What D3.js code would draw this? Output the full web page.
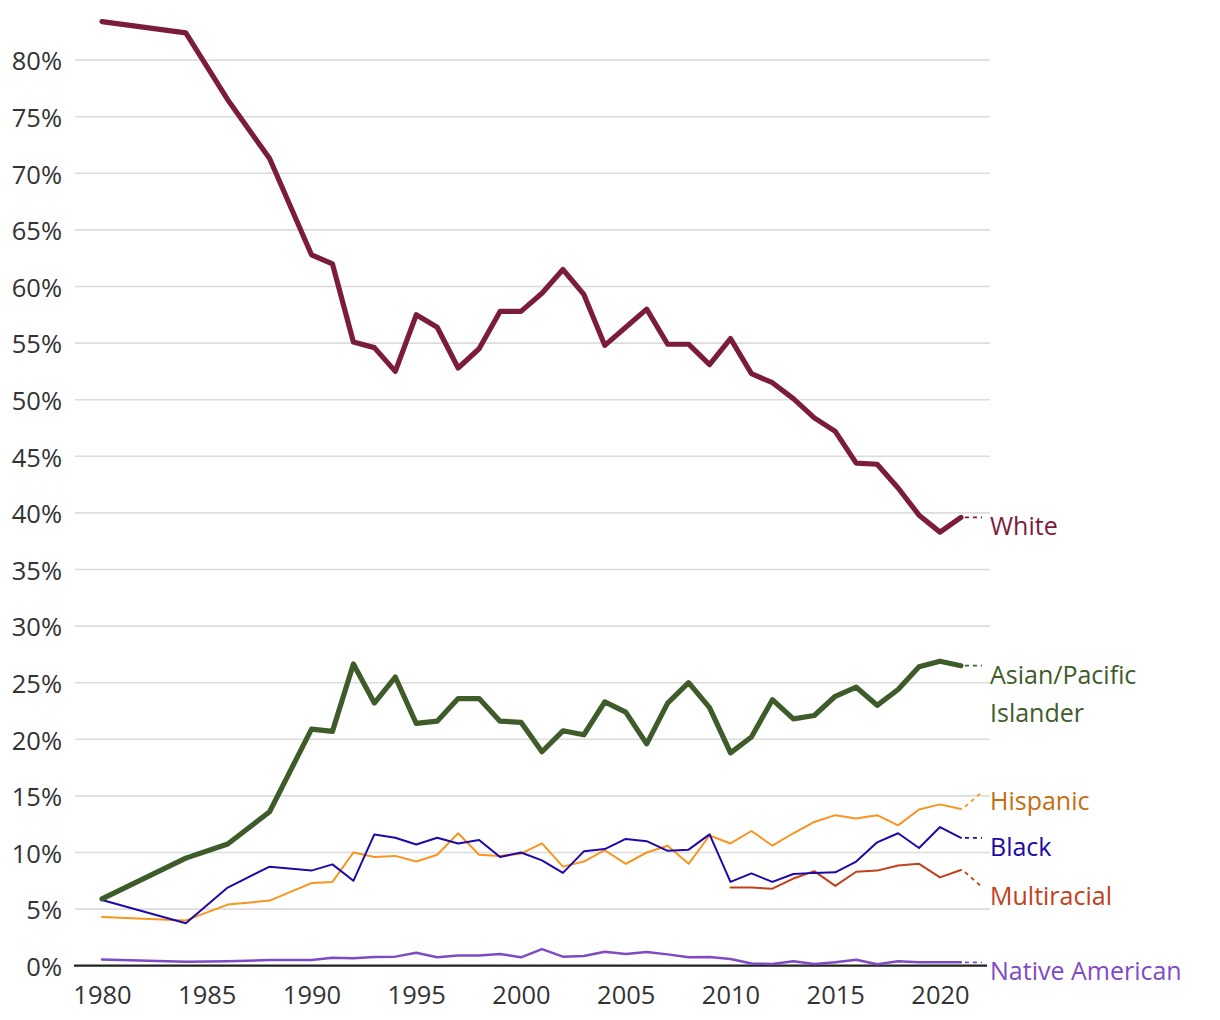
<!DOCTYPE html>
<html>
<head>
<meta charset="utf-8">
<script src="https://cdn.jsdelivr.net/npm/d3@7"></script>
<style>
  html, body { margin: 0; padding: 0; background: #fff; }
  svg { display: block; font-family: "Open Sans", Roboto, sans-serif; }
</style>
</head>
<body>
<svg id="chart" width="1220" height="1020"></svg>
<script>
// ---------------- DATA ----------------
const years = [1980, 1984, 1986, 1988, 1990, 1991, 1992, 1993, 1994, 1995, 1996, 1997, 1998, 1999, 2000,
  2001, 2002, 2003, 2004, 2005, 2006, 2007, 2008, 2009, 2010, 2011, 2012, 2013, 2014, 2015, 2016, 2017, 2018, 2019, 2020, 2021];

const white = [83.4, 82.4, 76.5, 71.3, 62.8, 62.0, 55.1, 54.6, 52.5, 57.5, 56.4, 52.8, 54.5, 57.8, 57.8,
  59.4, 61.5, 59.3, 54.8, 56.4, 58.0, 54.9, 54.9, 53.1, 55.4, 52.3, 51.5, 50.1, 48.4, 47.2, 44.4, 44.3, 42.2, 39.8, 38.3, 39.6];

const asian = [5.9, 9.5, 10.75, 13.6, 20.9, 20.7, 26.65, 23.2, 25.5, 21.4, 21.6, 23.6, 23.6, 21.6, 21.5,
  18.9, 20.75, 20.4, 23.3, 22.4, 19.6, 23.2, 25.0, 22.8, 18.8, 20.2, 23.5, 21.8, 22.1, 23.8, 24.6, 23.0, 24.4, 26.4, 26.9, 26.5];

const hispanic = [4.3, 4.0, 5.4, 5.75, 7.3, 7.4, 10.0, 9.6, 9.7, 9.2, 9.8, 11.7, 9.8, 9.7, 9.9,
  10.8, 8.75, 9.2, 10.2, 9.0, 10.0, 10.6, 9.0, 11.5, 10.8, 11.9, 10.6, 11.7, 12.7, 13.3, 13.0, 13.3, 12.4, 13.8, 14.25, 13.85];

const black = [5.8, 3.75, 6.9, 8.75, 8.4, 8.95, 7.5, 11.6, 11.3, 10.7, 11.3, 10.8, 11.1, 9.6, 10.0,
  9.3, 8.2, 10.1, 10.3, 11.2, 11.0, 10.15, 10.25, 11.6, 7.4, 8.15, 7.4, 8.1, 8.2, 8.25, 9.2, 10.9, 11.7, 10.4, 12.25, 11.3];

// Multiracial reported from 2010 onward only
const multiracial = [null, null, null, null, null, null, null, null, null, null, null, null, null, null, null,
  null, null, null, null, null, null, null, null, null, 6.9, 6.9, 6.8, 7.7, 8.35, 7.05, 8.3, 8.4, 8.85, 9.0, 7.8, 8.45];

const nativeAmerican = [0.55, 0.35, 0.4, 0.5, 0.5, 0.7, 0.65, 0.77, 0.8, 1.15, 0.74, 0.9, 0.9, 1.03, 0.74,
  1.47, 0.8, 0.85, 1.24, 1.03, 1.21, 1.0, 0.74, 0.77, 0.59, 0.2, 0.15, 0.4, 0.15, 0.3, 0.53, 0.12, 0.4, 0.3, 0.3, 0.3];

const seriesNames = ["White", "Asian/Pacific Islander", "Hispanic", "Black", "Multiracial", "Native American"];
const seriesValues = [white, asian, hispanic, black, multiracial, nativeAmerican];

const yTicks = [0, 5, 10, 15, 20, 25, 30, 35, 40, 45, 50, 55, 60, 65, 70, 75, 80];
const xTicks = [1980, 1985, 1990, 1995, 2000, 2005, 2010, 2015, 2020];

// ---------------- STYLE / LAYOUT ----------------
const styles = {
  "White":                  { line: "#7c1c3b", text: "#7c1c3b", width: 5.2, lines: ["White"],                 shift: 0 },
  "Asian/Pacific Islander": { line: "#3e5c2a", text: "#3e5c2a", width: 5.2, lines: ["Asian/Pacific", "Islander"], shift: 0 },
  "Hispanic":               { line: "#f7951f", text: "#c66e10", width: 2,   lines: ["Hispanic"],              shift: -17 },
  "Black":                  { line: "#2008a8", text: "#2008a8", width: 2,   lines: ["Black"],                 shift: 0 },
  "Multiracial":            { line: "#c2401a", text: "#c2401a", width: 2,   lines: ["Multiracial"],           shift: 17 },
  "Native American":        { line: "#7f4ac4", text: "#7f4ac4", width: 2.5, lines: ["Native American"],       shift: 0 }
};
const FONT = "'Open Sans', Roboto, sans-serif";

const svg = d3.select("#chart");
const x = d3.scaleLinear().domain([1980, 2020]).range([102, 940]);
const y = d3.scaleLinear().domain([0, 80]).range([965.7, 60.1]);
const gridLeft = 75, gridRight = 990, leaderEnd = 982, labelX = 990;

// gridlines
svg.append("g").selectAll("line")
  .data(yTicks.filter(t => t > 0))
  .join("line")
  .attr("x1", gridLeft).attr("x2", gridRight)
  .attr("y1", d => y(d)).attr("y2", d => y(d))
  .attr("stroke", "#dcdcdc").attr("stroke-width", 1.6);

// y axis labels
const yAxis = d3.axisLeft(y).tickValues(yTicks).tickFormat(d => d + "%").tickSize(0).tickPadding(0);
const gy = svg.append("g").attr("transform", "translate(62,0)").call(yAxis);
gy.select(".domain").remove();
gy.selectAll("text").attr("font-size", 25.5).attr("fill", "#333").attr("dy", "0.38em")
  .attr("font-family", FONT);

// x axis
const xAxis = d3.axisBottom(x).tickValues(xTicks).tickFormat(d3.format("d")).tickSize(0).tickPadding(0);
const gx = svg.append("g").attr("transform", "translate(0,965.7)").call(xAxis);
gx.select(".domain").remove();
gx.selectAll("text").attr("font-size", 25.5).attr("fill", "#333").attr("dy", "1.5em")
  .attr("font-family", FONT);
svg.append("line").attr("x1", 74).attr("x2", 987).attr("y1", y(0)).attr("y2", y(0))
  .attr("stroke", "#222").attr("stroke-width", 2.2);

// lines
const lineGen = d3.line()
  .defined(d => d.v !== null)
  .x(d => x(d.year)).y(d => y(d.v));

const drawOrder = [5, 4, 2, 3, 1, 0];
drawOrder.forEach(i => {
  const name = seriesNames[i];
  const st = styles[name];
  const pts = years.map((yr, j) => ({ year: yr, v: seriesValues[i][j] }));
  svg.append("path")
    .datum(pts)
    .attr("fill", "none")
    .attr("stroke", st.line)
    .attr("stroke-width", st.width)
    .attr("stroke-linejoin", "round")
    .attr("stroke-linecap", "round")
    .attr("d", lineGen);

  const last = pts[pts.length - 1];
  const y0 = y(last.v);
  const yl = y0 + st.shift;
  svg.append("line")
    .attr("x1", x(last.year) + 4).attr("y1", y0 + (st.shift ? st.shift * 0.12 : 0))
    .attr("x2", leaderEnd).attr("y2", yl)
    .attr("stroke", st.line).attr("stroke-width", 1.8)
    .attr("stroke-dasharray", "4,4");

  const t = svg.append("text")
    .attr("x", labelX).attr("y", yl + 18)
    .attr("fill", st.text)
    .attr("font-size", 25)
    .attr("font-family", FONT);
  st.lines.forEach((ln, k) => {
    t.append("tspan").attr("x", labelX).attr("dy", k === 0 ? 0 : 38).text(ln);
  });
});
</script>
</body>
</html>
